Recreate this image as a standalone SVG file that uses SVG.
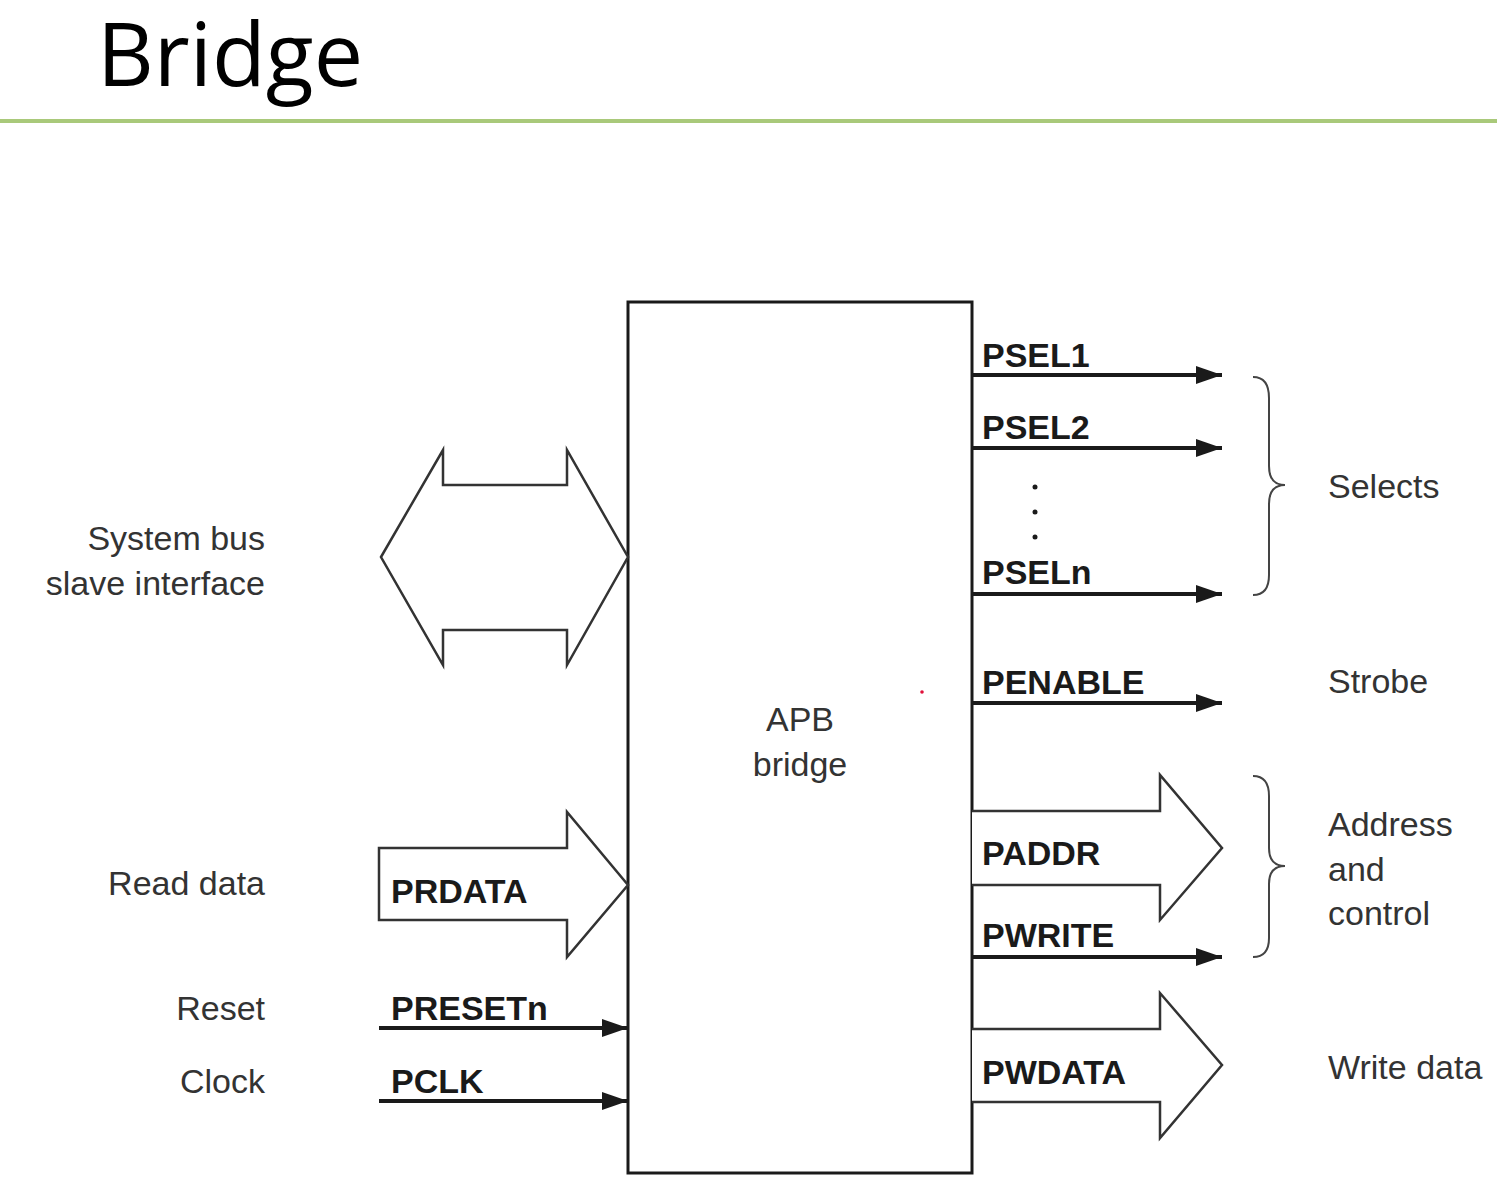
<svg xmlns="http://www.w3.org/2000/svg" width="1497" height="1199" viewBox="0 0 1497 1199">
<style>
.sig{font-family:"Liberation Sans",Arial,sans-serif;font-weight:bold;font-size:34px;fill:#1a1a1a}
.lbl{font-family:"Liberation Sans",Arial,sans-serif;font-size:34px;fill:#333}
.wire{stroke:#1a1a1a;stroke-width:4;fill:none}
.bus{stroke:#333;stroke-width:2.5;fill:#fff;stroke-linejoin:miter}
.brace{stroke:#444;stroke-width:2;fill:none}
</style>
<defs>
<marker id="ah" markerUnits="userSpaceOnUse" markerWidth="28" markerHeight="20" refX="26" refY="9" orient="auto">
<path d="M0,0 L26,9 L0,18 Z" fill="#1a1a1a"/>
</marker>
</defs>
<rect width="1497" height="1199" fill="#fff"/>
<g id="title">
<text x="97" y="86" font-family="'Open Sans','Noto Sans',sans-serif" font-size="88" fill="#000">Bridge</text>
<rect x="0" y="119" width="1497" height="4" fill="#a9c97a"/>
</g>
<g id="apb-bridge">
<rect x="628" y="302" width="344" height="871" fill="none" stroke="#1a1a1a" stroke-width="3"/>
<text class="lbl" x="800" y="731" text-anchor="middle">APB</text>
<text class="lbl" x="800" y="776" text-anchor="middle">bridge</text>
</g>
<g id="system-bus">
<path class="bus" d="M381,557 L443,450 L443,485 L567,485 L567,450 L628,557 L567,665 L567,630 L443,630 L443,665 Z"/>
<text class="lbl" x="265" y="550" text-anchor="end">System bus</text>
<text class="lbl" x="265" y="595" text-anchor="end">slave interface</text>
</g>
<g id="read-data">
<path class="bus" d="M379,848 L567,848 L567,812 L628,885 L567,957 L567,920 L379,920 Z"/>
<text class="sig" x="391" y="903">PRDATA</text>
<text class="lbl" x="265" y="895" text-anchor="end">Read data</text>
</g>
<g id="reset">
<text class="sig" x="391" y="1020">PRESETn</text>
<text class="lbl" x="265" y="1020" text-anchor="end">Reset</text>
</g>
<g id="clock">
<text class="sig" x="391" y="1093">PCLK</text>
<text class="lbl" x="265" y="1093" text-anchor="end">Clock</text>
</g>
<g id="selects">
<text class="sig" x="982" y="367">PSEL1</text>
<text class="sig" x="982" y="439">PSEL2</text>
<circle cx="1035" cy="487" r="2.5" fill="#1a1a1a"/>
<circle cx="1035" cy="512" r="2.5" fill="#1a1a1a"/>
<circle cx="1035" cy="537" r="2.5" fill="#1a1a1a"/>
<text class="sig" x="982" y="584">PSELn</text>
<path class="brace" d="M1253,377 C1264,377 1269,384 1269,398 L1269,466 C1269,478 1274,485 1285,485 C1274,485 1269,492 1269,504 L1269,575 C1269,588 1264,595 1253,595"/>
<text class="lbl" x="1328" y="498">Selects</text>
</g>
<g id="strobe">
<text class="sig" x="982" y="694">PENABLE</text>
<text class="lbl" x="1328" y="693">Strobe</text>
</g>
<g id="address-control">
<path class="bus" d="M972,811 L1160,811 L1160,775 L1222,848 L1160,920 L1160,885 L972,885"/>
<text class="sig" x="982" y="865">PADDR</text>
<text class="sig" x="982" y="947">PWRITE</text>
<path class="brace" d="M1253,776 C1264,776 1269,783 1269,796 L1269,848 C1269,860 1274,866 1285,866 C1274,866 1269,872 1269,884 L1269,938 C1269,950 1264,957 1253,957"/>
<text class="lbl" x="1328" y="836">Address</text>
<text class="lbl" x="1328" y="881">and</text>
<text class="lbl" x="1328" y="925">control</text>
</g>
<g id="write-data">
<path class="bus" d="M972,1029 L1160,1029 L1160,993 L1222,1065 L1160,1138 L1160,1102 L972,1102"/>
<text class="sig" x="982" y="1084">PWDATA</text>
<text class="lbl" x="1328" y="1079">Write data</text>
</g>
<g id="connectors">
<line class="wire" x1="379" y1="1028" x2="628" y2="1028" marker-end="url(#ah)"/>
<line class="wire" x1="379" y1="1101" x2="628" y2="1101" marker-end="url(#ah)"/>
<line class="wire" x1="972" y1="375" x2="1222" y2="375" marker-end="url(#ah)"/>
<line class="wire" x1="972" y1="448" x2="1222" y2="448" marker-end="url(#ah)"/>
<line class="wire" x1="972" y1="594" x2="1222" y2="594" marker-end="url(#ah)"/>
<line class="wire" x1="972" y1="703" x2="1222" y2="703" marker-end="url(#ah)"/>
<line class="wire" x1="972" y1="957" x2="1222" y2="957" marker-end="url(#ah)"/>
</g>
<circle cx="922" cy="692" r="1.8" fill="#e0103a"/>
</svg>
